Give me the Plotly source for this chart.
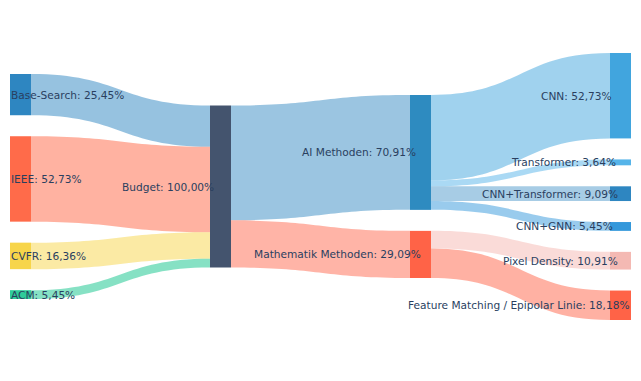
import plotly.graph_objects as go

node_labels = ["Base-Search", "IEEE", "CVFR", "ACM", "Budget",
               "AI Methoden", "Mathematik Methoden",
               "CNN", "Transformer", "CNN+Transformer", "CNN+GNN",
               "Pixel Density", "Feature Matching / Epipolar Linie"]
node_pct = ["25,45%", "52,73%", "16,36%", "5,45%", "100,00%",
            "70,91%", "29,09%",
            "52,73%", "3,64%", "9,09%", "5,45%",
            "10,91%", "18,18%"]
node_column = [0, 0, 0, 0, 1, 2, 2, 3, 3, 3, 3, 3, 3]
node_colors = ["#2e86c1", "#ff6b4a", "#f7d54a", "#2ecc9a", "#44546e",
               "#2e8bc0", "#ff6347",
               "#41a5de", "#56b4e9", "#2e86c1", "#3498db",
               "#f4b9b3", "#ff6347"]

link_source = [0, 1, 2, 3, 4, 4, 5, 5, 5, 5, 6, 6]
link_target = [4, 4, 4, 4, 5, 6, 7, 8, 9, 10, 11, 12]
link_value = [14, 29, 9, 3, 39, 16, 29, 2, 5, 3, 6, 10]
link_colors = ["rgba(46,134,193,0.5)", "rgba(255,107,74,0.52)", "rgba(247,213,74,0.5)",
               "rgba(46,204,154,0.58)", "rgba(46,134,193,0.48)", "rgba(255,99,71,0.48)",
               "rgba(65,165,222,0.5)", "rgba(86,180,233,0.5)", "rgba(46,134,193,0.42)",
               "rgba(52,152,219,0.5)", "rgba(245,183,177,0.5)", "rgba(255,99,71,0.5)"]

# ---- layout geometry (pixels in the window; the page body adds an 8px margin) ----
BODY = 8
W, H = 641 - BODY, 381 - BODY
TOP, BOTTOM = 53 - BODY, 320 - BODY
LEFT, RIGHT = 10 - BODY, 631 - BODY
PAD, THICK = 21, 21
FONT = dict(family="DejaVu Sans", size=10.6, color="#2a3f5f")
CHAR_W = 5.45      # approx. average glyph width at this font size
LABEL_SHIFT = 0.11  # labels drift right in proportion to their length

n = len(node_labels)
inflow = [0] * n
outflow = [0] * n
for s, t, v in zip(link_source, link_target, link_value):
    outflow[s] += v
    inflow[t] += v
node_value = [max(a, b) for a, b in zip(inflow, outflow)]

ncols = max(node_column) + 1
cols = [[i for i in range(n) if node_column[i] == c] for c in range(ncols)]
Hd = BOTTOM - TOP
ky = min((Hd - (len(c) - 1) * PAD) / sum(node_value[i] for i in c) for c in cols)

xc = [0.0] * n
yc = [0.0] * n
for c, members in enumerate(cols):
    total = sum(node_value[i] for i in members) * ky + (len(members) - 1) * PAD
    y = TOP + (Hd - total) / 2
    cx = LEFT + THICK / 2 + c * (RIGHT - LEFT - THICK) / (ncols - 1)
    for i in members:
        h = node_value[i] * ky
        xc[i] = cx
        yc[i] = y + h / 2
        y += h + PAD

fig = go.Figure(go.Sankey(
    arrangement="fixed",
    domain=dict(x=[0, 1], y=[1 - BOTTOM / H, 1 - TOP / H]),
    node=dict(label=[""] * n, color=node_colors, pad=PAD, thickness=THICK,
              line=dict(width=0),
              x=[v / W for v in xc], y=[(v - TOP) / Hd for v in yc],
              customdata=[f"{a}: {b}" for a, b in zip(node_labels, node_pct)],
              hovertemplate="%{customdata}<extra></extra>"),
    link=dict(source=link_source, target=link_target, value=link_value,
              color=link_colors),
))

for i in range(n):
    text = f"{node_labels[i]}: {node_pct[i]}"
    if node_column[i] == 0:
        xa, anchor = xc[i] - THICK / 2, "left"
    else:
        xa = xc[i] - THICK / 2 - 4 + LABEL_SHIFT * len(text) * CHAR_W
        anchor = "right"
    fig.add_annotation(x=xa / W, y=1 - yc[i] / H, xref="paper", yref="paper",
                       text=text, showarrow=False, xanchor=anchor, yanchor="middle",
                       font=FONT, borderpad=0)

fig.update_layout(width=W, height=H, margin=dict(l=0, r=0, t=0, b=0),
                  paper_bgcolor="white")
fig.write_html("out.html")
